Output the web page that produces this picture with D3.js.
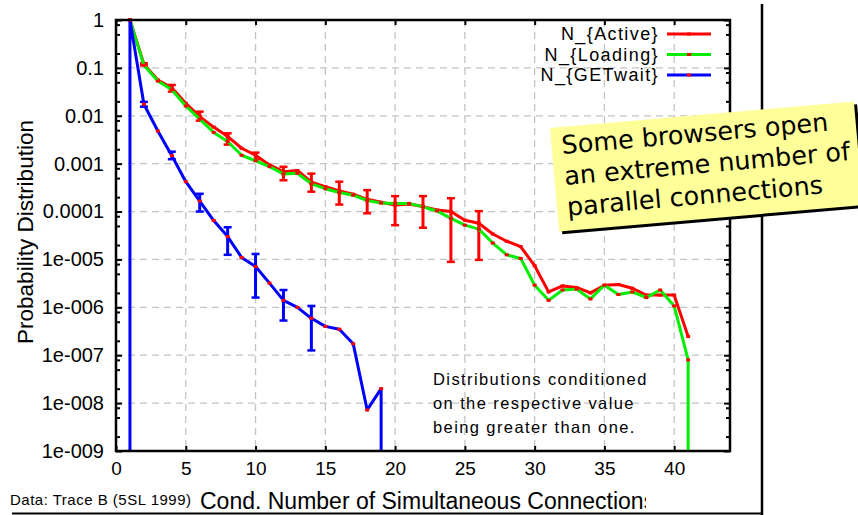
<!DOCTYPE html>
<html lang="en">
<head>
  <meta charset="UTF-8">
  <title>Simultaneous Connections</title>
  <script src="https://d3js.org/d3.v7.min.js"></script>
  <style>
    body { margin: 0; background: #fff; }
    svg { display: block; font-family: "Liberation Sans", Arial, sans-serif; }
    .grid line { stroke: #c4c4c4; stroke-width: 1.3px; stroke-dasharray: 7,5; }
    .axis path { display: none; }
    .axis line { stroke: #000; stroke-width: 2px; }
    .axis text { font-size: 19px; fill: #000; font-family: "Liberation Sans", Arial, sans-serif; }
    .yaxis text { font-size: 20px; }
  </style>
</head>
<body>
<svg id="chart" width="858" height="515"></svg>
<script>
  // number of connections (x) for the Active / Loading curves
  const connections = [1, 2, 3, 4, 5, 6, 7, 8, 9, 10, 11, 12, 13, 14, 15, 16, 17, 18, 19, 20,
    21, 22, 23, 24, 25, 26, 27, 28, 29, 30, 31, 32, 33, 34, 35, 36, 37, 38, 39, 40, 41];

  const activeProb = [1, 0.119, 0.056, 0.0386, 0.0182, 0.0096, 0.0058, 0.0037, 0.0021, 0.0015,
    0.00094, 0.00068, 0.00072, 0.00041, 0.00033, 0.00027, 0.00023, 0.00018, 0.000156, 0.000137,
    0.000144, 0.000127, 0.000108, 0.0001, 6.6e-5, 5.7e-5, 3.4e-5, 2.4e-5, 1.85e-5, 7.4e-6,
    2.1e-6, 2.8e-6, 2.6e-6, 2.0e-6, 2.9e-6, 3.0e-6, 2.5e-6, 1.8e-6, 1.8e-6, 1.8e-6, 2.45e-7];

  // last point (0) drops the curve to the bottom of the axis
  const loadingX = [1, 2, 3, 4, 5, 6, 7, 8, 9, 10, 11, 12, 13, 14, 15, 16, 17, 18, 19, 20,
    21, 22, 23, 24, 25, 26, 27, 28, 29, 30, 31, 32, 33, 34, 35, 36, 37, 38, 39, 40, 41, 41];
  const loadingProb = [1, 0.113, 0.053, 0.035, 0.016, 0.0085, 0.0045, 0.0029, 0.0015, 0.00115,
    0.00087, 0.00061, 0.00063, 0.00038, 0.0003, 0.00025, 0.00022, 0.00017, 0.00015, 0.000148,
    0.000148, 0.000125, 0.000103, 7.2e-5, 5.2e-5, 4.3e-5, 2.2e-5, 1.25e-5, 1.05e-5, 2.9e-6,
    1.4e-6, 2.3e-6, 2.4e-6, 1.5e-6, 2.9e-6, 1.85e-6, 2.1e-6, 1.6e-6, 2.3e-6, 1.07e-6, 8.0e-8, 0];

  const getwaitX = [1, 1, 2, 3, 4, 5, 6, 7, 8, 9, 10, 11, 12, 13, 14, 15, 16, 17, 18, 19, 19];
  const getwaitProb = [0, 1, 0.0174, 0.0048, 0.00147, 0.00042, 0.000166, 6.5e-5, 3.0e-5, 1.1e-5,
    7.1e-6, 3.2e-6, 1.4e-6, 1.0e-6, 5.9e-7, 4.0e-7, 3.5e-7, 1.73e-7, 7.2e-9, 2.0e-8, 0];

  // error bars
  const activeErrX = [2, 4, 6, 8, 10, 12, 14, 16, 18, 20, 22, 24, 26];
  const activeErrHi = [0.125, 0.044, 0.0122, 0.0043, 0.0017, 0.00086, 0.00062, 0.00042, 0.00028,
    0.00021, 0.00021, 0.00019, 0.000102];
  const activeErrLo = [0.113, 0.032, 0.0079, 0.0025, 0.0012, 0.00045, 0.00026, 0.00014, 9.2e-5,
    5.2e-5, 4.6e-5, 8.9e-6, 9.8e-6];

  const getwaitErrX = [2, 4, 6, 8, 10, 12, 14];
  const getwaitErrHi = [0.0195, 0.00178, 0.000235, 4.7e-5, 1.3e-5, 2.3e-6, 1.07e-6];
  const getwaitErrLo = [0.0155, 0.00124, 0.0001, 1.25e-5, 1.6e-6, 5.3e-7, 1.26e-7];

  const xTickValues = [0, 5, 10, 15, 20, 25, 30, 35, 40];
  const yTickValues = [1, 0.1, 0.01, 0.001, 0.0001, 1e-5, 1e-6, 1e-7, 1e-8, 1e-9];
  const yTickLabels = ["1", "0.1", "0.01", "0.001", "0.0001", "1e-005", "1e-006", "1e-007", "1e-008", "1e-009"];

  const legendNames = ["N_{Active}", "N_{Loading}", "N_{GETwait}"];
  const seriesColors = ["#ff0000", "#00ee00", "#0000ff"];

  const noteLines = ["Some browsers open", "an extreme number of", "parallel connections"];
  const commentLines = ["Distributions conditioned", "on the respective value", "being greater than one."];

  const svg = d3.select("#chart");
  const plotLeft = 116, plotRight = 730, plotTop = 20, plotBottom = 451;

  const x = d3.scaleLinear().domain([0, 44]).range([plotLeft, plotRight]);
  const y = d3.scaleLog().domain([1e-9, 1]).range([plotBottom, plotTop]);
  const yv = v => y(Math.max(v, 1e-9));

  // minor tick positions (2, 5, 8 in each decade)
  const minorTicks = [];
  for (let e = -9; e < 0; e++) [2, 5, 8].forEach(m => minorTicks.push(m * Math.pow(10, e)));

  // grid
  const grid = svg.append("g").attr("class", "grid");
  grid.selectAll(".gx").data(xTickValues.filter(d => d > 0)).enter().append("line")
    .attr("x1", d => x(d)).attr("x2", d => x(d)).attr("y1", plotTop).attr("y2", plotBottom);
  grid.selectAll(".gy").data(yTickValues.slice(1, -1)).enter().append("line")
    .attr("x1", plotLeft).attr("x2", plotRight).attr("y1", d => y(d)).attr("y2", d => y(d));

  // axes (ticks inside)
  svg.append("g").attr("class", "axis yaxis").attr("transform", `translate(${plotLeft},0)`)
    .call(d3.axisLeft(y).tickValues(yTickValues).tickSize(-6).tickPadding(12)
      .tickFormat((d, i) => yTickLabels[i]));
  svg.append("g").attr("class", "axis").attr("transform", `translate(${plotLeft},0)`)
    .call(d3.axisLeft(y).tickValues(minorTicks).tickSize(-4).tickFormat(""));
  svg.append("g").attr("class", "axis").attr("transform", `translate(${plotRight},0)`)
    .call(d3.axisRight(y).tickValues(yTickValues).tickSize(-6).tickFormat(""));
  svg.append("g").attr("class", "axis").attr("transform", `translate(${plotRight},0)`)
    .call(d3.axisRight(y).tickValues(minorTicks).tickSize(-4).tickFormat(""));
  svg.append("g").attr("class", "axis").attr("transform", `translate(0,${plotBottom})`)
    .call(d3.axisBottom(x).tickValues(xTickValues).tickSize(-5).tickPadding(11));
  svg.append("g").attr("class", "axis").attr("transform", `translate(0,${plotTop})`)
    .call(d3.axisTop(x).tickValues(xTickValues).tickSize(-5).tickFormat(""));

  // series
  const line = d3.line().x(d => x(d[0])).y(d => yv(d[1]));
  const series = [
    connections.map((c, i) => [c, activeProb[i]]),
    loadingX.map((c, i) => [c, loadingProb[i]]),
    getwaitX.map((c, i) => [c, getwaitProb[i]])
  ];
  const errors = [
    activeErrX.map((c, i) => [c, activeErrLo[i], activeErrHi[i]]),
    null,
    getwaitErrX.map((c, i) => [c, getwaitErrLo[i], getwaitErrHi[i]])
  ];

  series.forEach((pts, s) => {
    const g = svg.append("g");
    g.append("path").datum(pts).attr("d", line)
      .attr("fill", "none").attr("stroke", seriesColors[s]).attr("stroke-width", 3)
      .attr("stroke-linejoin", "round");
    if (errors[s]) {
      errors[s].forEach(e => {
        g.append("line").attr("x1", x(e[0])).attr("x2", x(e[0]))
          .attr("y1", y(e[1])).attr("y2", y(e[2]))
          .attr("stroke", seriesColors[s]).attr("stroke-width", 3);
        [e[1], e[2]].forEach(v => g.append("line")
          .attr("x1", x(e[0]) - 4).attr("x2", x(e[0]) + 4)
          .attr("y1", y(v)).attr("y2", y(v))
          .attr("stroke", seriesColors[s]).attr("stroke-width", 2.5));
      });
    }
    g.selectAll("rect").data(pts.filter(p => p[1] > 0)).enter().append("rect")
      .attr("x", d => x(d[0]) - 2).attr("y", d => yv(d[1]) - 1.5)
      .attr("width", 4).attr("height", 3).attr("fill", "#ff0000");
  });

  // frame
  svg.append("rect").attr("x", plotLeft).attr("y", plotTop)
    .attr("width", plotRight - plotLeft).attr("height", plotBottom - plotTop)
    .attr("fill", "none").attr("stroke", "#000").attr("stroke-width", 2.5);

  // legend
  const legend = svg.append("g");
  legendNames.forEach((name, i) => {
    const ly = 34 + i * 20.5;
    legend.append("text").attr("x", 659).attr("y", ly + 6)
      .attr("text-anchor", "end").attr("font-size", 18).attr("letter-spacing", 1.4).text(name);
    legend.append("line").attr("x1", 667).attr("x2", 711).attr("y1", ly).attr("y2", ly)
      .attr("stroke", seriesColors[i]).attr("stroke-width", 3);
    legend.append("rect").attr("x", 687).attr("y", ly - 1.5).attr("width", 4).attr("height", 3)
      .attr("fill", "#ff0000");
  });

  // comment inside the plot
  svg.append("g").selectAll("text").data(commentLines).enter().append("text")
    .attr("x", 433).attr("y", (d, i) => 385 + i * 24)
    .attr("font-size", 16.5).attr("letter-spacing", 1.4).text(d => d);

  // axis titles
  svg.append("text")
    .attr("transform", "translate(33,232) rotate(-90)")
    .attr("text-anchor", "middle").attr("font-size", 22.5)
    .text("Probability Distribution");

  svg.append("clipPath").attr("id", "xlabelClip")
    .append("rect").attr("x", 0).attr("y", 470).attr("width", 646).attr("height", 45);
  svg.append("text").attr("x", 200).attr("y", 509)
    .attr("font-size", 23).attr("clip-path", "url(#xlabelClip)")
    .text("Cond. Number of Simultaneous Connections");

  svg.append("text").attr("x", 10).attr("y", 505)
    .attr("font-size", 15).attr("letter-spacing", 0.5)
    .text("Data: Trace B (5SL 1999)");

  // slide rules
  svg.append("line").attr("x1", 762).attr("x2", 762).attr("y1", 4).attr("y2", 515)
    .attr("stroke", "#000").attr("stroke-width", 2.5);
  svg.append("line").attr("x1", 12).attr("x2", 762).attr("y1", 513.5).attr("y2", 513.5)
    .attr("stroke", "#000").attr("stroke-width", 2);

  // sticky note
  const note = svg.append("g").attr("transform", "translate(550,128) rotate(-5)");
  note.append("rect").attr("x", 3).attr("y", 3).attr("width", 305).attr("height", 104).attr("fill", "#000");
  note.append("rect").attr("x", 0).attr("y", 0).attr("width", 305).attr("height", 104).attr("fill", "#ffff99");
  note.selectAll("text").data(noteLines).enter().append("text")
    .attr("x", 10).attr("y", (d, i) => 27 + i * 31)
    .attr("font-family", "'DejaVu Sans', sans-serif").attr("font-size", 25.5)
    .text(d => d);
</script>
</body>
</html>
